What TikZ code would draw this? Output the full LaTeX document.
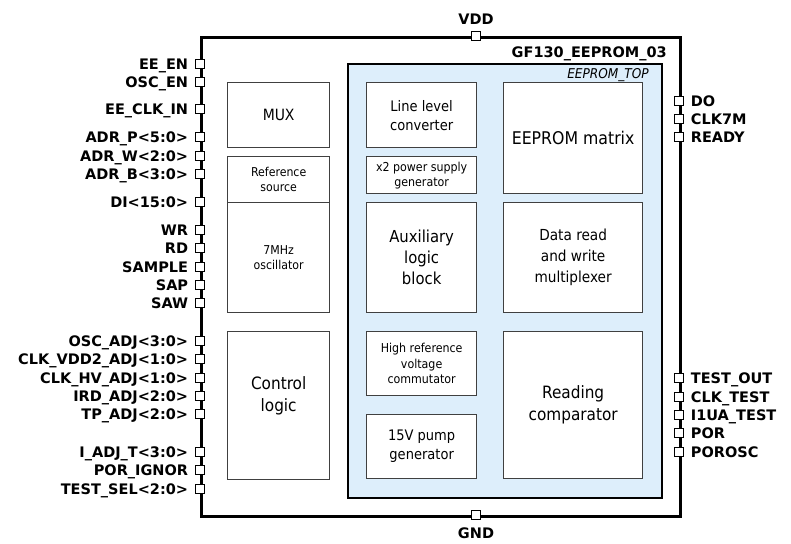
\documentclass[tikz,border=0pt]{standalone}
\usepackage{fontspec}
\setmainfont{DejaVu Sans}
\newfontfamily\condfont{DejaVu Sans Condensed}
\usepackage{tikz}
\usetikzlibrary{positioning}
\definecolor{topblue}{HTML}{DDEEFB}
\definecolor{blkgray}{HTML}{404040}

\begin{document}
\begin{tikzpicture}[x=1pt, y=-1pt,
    chipbox/.style={draw, line width=2.6pt, anchor=north west, inner sep=0pt},
    topbox/.style={draw, line width=1.8pt, fill=topblue, anchor=north west, inner sep=0pt},
    blk/.style={draw=blkgray, line width=1.3pt, fill=white, anchor=north west, inner sep=0pt, align=center},
    pin/.style={draw, line width=0.9pt, fill=white, minimum size=8.5pt, inner sep=0pt},
    pinlbl/.style={font=\fontsize{14.5}{16}\selectfont\bfseries, inner sep=0pt, text height=10.5pt, text depth=0pt},
]
\useasboundingbox (0,0) rectangle (791,543);

% Chip outline
\node[chipbox, minimum width=479pt, minimum height=479pt] (chip) at (200,36) {};
\node[font=\fontsize{14.5}{16}\selectfont\bfseries, anchor=base east, inner sep=0pt] (title) at (667,57) {GF130\_EEPROM\_03};

% EEPROM_TOP
\node[topbox, minimum width=314pt, minimum height=434pt] (top) at (347,63) {};
\node[font=\condfont\fontsize{13.5}{14}\selectfont\itshape, anchor=base east, inner sep=0pt] (toplbl) at (649,78) {EEPROM\_TOP};

% Left column
\node[blk, minimum width=102pt, minimum height=65pt, font=\condfont\fontsize{15.5}{18}\selectfont] (mux) at (227,82) {MUX};
\node[blk, minimum width=102pt, minimum height=46pt, font=\condfont\fontsize{12.2}{15.5}\selectfont] (ref) at (227,156) {Reference\\source};
\node[blk, minimum width=102pt, minimum height=110pt, font=\condfont\fontsize{12.2}{15.5}\selectfont] (osc) at (227,202) {7MHz\\oscillator};
\node[blk, minimum width=102pt, minimum height=148pt] (ctrl) at (227,331) {};
\node[font=\condfont\fontsize{17}{22}\selectfont, align=center] (ctrltxt) at ([yshift=10pt]ctrl.center) {Control\\logic};

% Inner left column
\node[blk, minimum width=110pt, minimum height=65pt, font=\condfont\fontsize{14.5}{19}\selectfont] (llc) at (366,82) {Line level\\converter};
\node[blk, minimum width=110pt, minimum height=37pt, font=\condfont\fontsize{12.3}{15}\selectfont] (x2) at (366,156) {x2 power supply\\generator};
\node[blk, minimum width=110pt, minimum height=110pt, font=\condfont\fontsize{16.5}{21}\selectfont] (aux) at (366,202) {Auxiliary\\logic\\block};
\node[blk, minimum width=110pt, minimum height=64pt, font=\condfont\fontsize{12.3}{15.5}\selectfont] (hrv) at (366,331) {High reference\\voltage\\commutator};
\node[blk, minimum width=110pt, minimum height=64pt, font=\condfont\fontsize{14.5}{19}\selectfont] (pump) at (366,414) {15V pump\\generator};

% Inner right column
\node[blk, minimum width=139pt, minimum height=111pt, font=\condfont\fontsize{17.5}{20}\selectfont] (mat) at (503,82) {EEPROM matrix};
\node[blk, minimum width=139pt, minimum height=110pt, font=\condfont\fontsize{15.2}{21}\selectfont] (drw) at (503,202) {Data read\\and write\\multiplexer};
\node[blk, minimum width=139pt, minimum height=147pt, font=\condfont\fontsize{17}{22}\selectfont] (cmp) at (503,331) {Reading\\comparator};

% Left pins
\foreach \y/\t [count=\i] in {64/EE\_EN, 82/OSC\_EN, 109/EE\_CLK\_IN, 137/ADR\_P<5:0>, 156/ADR\_W<2:0>,
    174/ADR\_B<3:0>, 202/DI<15:0>, 230/WR, 248/RD, 267/SAMPLE, 285/SAP, 303/SAW,
    341/OSC\_ADJ<3:0>, 359/CLK\_VDD2\_ADJ<1:0>, 378/CLK\_HV\_ADJ<1:0>, 396/IRD\_ADJ<2:0>,
    414/TP\_ADJ<2:0>, 452/I\_ADJ\_T<3:0>, 470/POR\_IGNOR, 489/TEST\_SEL<2:0>}
{
  \node[pin] (pl\i) at (200,\y) {};
  \node[pinlbl, left=7pt of pl\i] (ll\i) {\t};
}

% Right pins
\foreach \y/\t [count=\i] in {101/DO, 119/CLK7M, 137/READY,
    378/TEST\_OUT, 397/CLK\_TEST, 415/I1UA\_TEST, 433/POR, 452/POROSC}
{
  \node[pin] (pr\i) at (679,\y) {};
  \node[pinlbl, right=7pt of pr\i] (lr\i) {\t};
}

% Supply pins
\node[pin] (vdd) at (476,36) {};
\node[pinlbl, above=7pt of vdd] (vddlbl) {VDD};
\node[pin] (gnd) at (476,515) {};
\node[pinlbl, below=8pt of gnd] (gndlbl) {GND};

\end{tikzpicture}
\end{document}
